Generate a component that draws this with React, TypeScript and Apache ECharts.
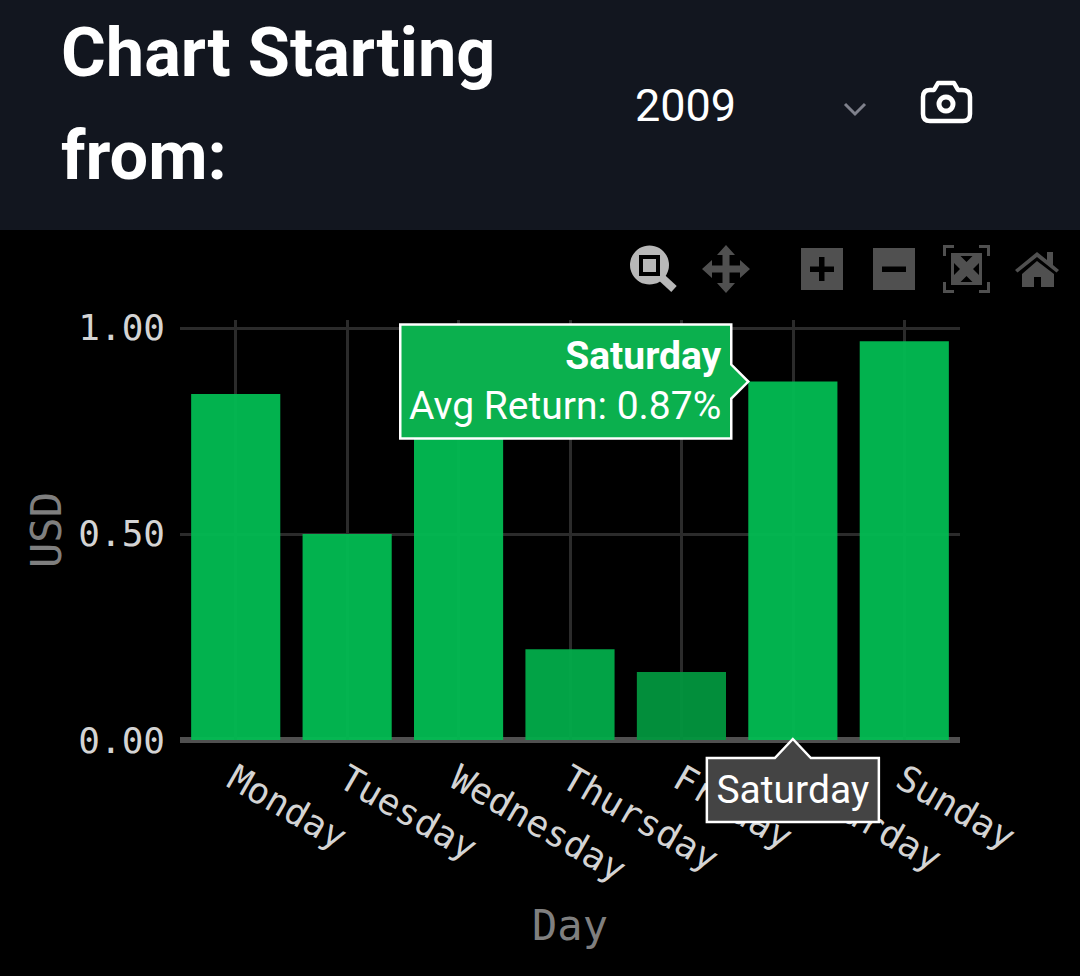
import React, { useEffect, useRef } from "react";
import * as echarts from "echarts";

const days = ["Monday", "Tuesday", "Wednesday", "Thursday", "Friday", "Saturday", "Sunday"];
const avgReturn = [0.84, 0.5, 0.88, 0.22, 0.165, 0.87, 0.968];
const barColors = ["#02bc52", "#02bc52", "#02bc52", "#02ac4a", "#02963e", "#02bc52", "#02bc52"];
const yTicks = [0, 0.5, 1];
const hoveredIndex = 5;
const titleLines = ["Chart Starting", "from:"];
const selectedYear = "2009";

const MONO = "'DejaVu Sans Mono', monospace";
const ICON_GREY = "#505050";

const reg = (name: string, d: string) =>
  echarts.graphic.registerShape(name, echarts.graphic.extendPath(d, {}) as any);

reg("camOutline", "M923 97Q923 90 930 90L934 90L938 83L954 83L958 90L962 90Q970 90 970 97L970 114Q970 121 963 121L930 121Q923 121 923 114Z");
reg("moveIcon", "M726 245L735 255L729.5 255L729.5 265.5L740 265.5L740 260L750 269L740 278L740 272.5L729.5 272.5L729.5 283L735 283L726 293L717 283L722.5 283L722.5 272.5L712 272.5L712 278L702 269L712 260L712 265.5L722.5 265.5L722.5 255L717 255Z");
reg("homeIcon", "M1037 252L1047 260L1047 252L1053 252L1053 265L1059 270L1056.5 272.5L1037 257L1017.5 272.5L1015 270ZM1037 261L1054 274L1054 287L1041 287L1041 277L1034 277L1034 287L1022 287L1022 274Z");
reg("scaleCorners", "M943 245L954 245L954 248L946 248L946 256L943 256ZM979 245L990 245L990 256L987 256L987 248L979 248ZM943 282L946 282L946 290L954 290L954 293L943 293ZM987 282L990 282L990 293L979 293L979 290L987 290Z");
reg("scaleHoles", "M954 263L954 275L960 269ZM979 263L979 275L973 269ZM960.500 256L972.500 256L966.500 262ZM960.500 282L972.500 282L966.500 276Z");

export default function App() {
  const ref = useRef<HTMLDivElement>(null);

  useEffect(() => {
    document.body.style.margin = "0";
    document.body.style.background = "#000";
    const chart = echarts.init(ref.current!, undefined, { renderer: "svg" });
    const base: any = {
      animation: false,
      backgroundColor: "#000000",
      grid: { left: 180, right: 120, top: 320, bottom: 236 },
      xAxis: {
        type: "category",
        data: days,
        name: "Day",
        nameLocation: "middle",
        nameGap: 164,
        nameTextStyle: { color: "#7f7f7f", fontFamily: MONO, fontSize: 42 },
        axisLine: { show: true, lineStyle: { color: ICON_GREY, width: 6, cap: "butt" } },
        axisTick: { show: false },
        splitLine: { show: false },
        axisLabel: { interval: 0, rotate: -30, margin: 27, verticalAlign: "top", lineHeight: 18, color: "#d4d4d4", fontFamily: MONO, fontSize: 36 },
      },
      yAxis: {
        type: "value",
        min: 0,
        max: 1.0194,
        interval: 0.5,
        name: "USD",
        nameLocation: "middle",
        nameGap: 112,
        nameRotate: 90,
        nameTextStyle: { color: "#7f7f7f", fontFamily: MONO, fontSize: 42 },
        axisLine: { show: false },
        axisTick: { show: false },
        splitLine: { show: true, showMaxLine: false, lineStyle: { color: "#2b2b2b", width: 3 } },
        axisLabel: {
          showMaxLabel: false,
          margin: 15,
          color: "#d4d4d4",
          fontFamily: MONO,
          fontSize: 36,
          formatter: (v: number) => (yTicks.includes(v) ? v.toFixed(2) : ""),
        },
      },
      series: [
        {
          type: "bar",
          barWidth: "80%",
          z: 2,
          data: avgReturn.map((v, i) => ({ value: v, itemStyle: { color: barColors[i], opacity: 0.95 } })),
          markLine: {
            silent: true,
            z: 1,
            symbol: "none",
            label: { show: false },
            lineStyle: { color: "#2b2b2b", width: 3, type: "solid" },
            data: days.map((d) => ({ xAxis: d })),
          },
        },
      ],
    };
    chart.setOption(base);

    const [hx, hy] = chart.convertToPixel({ xAxisIndex: 0, yAxisIndex: 0 }, [hoveredIndex, avgReturn[hoveredIndex]]);
    const [, y0] = chart.convertToPixel({ xAxisIndex: 0, yAxisIndex: 0 }, [hoveredIndex, 0]);
    const halfBar = 44.6;
    const tipX = hx - halfBar;
    const boxR = tipX - 17;
    const boxL = boxR - 331;
    const boxT = hy - 57;
    const boxB = hy + 57;
    const xT = y0 + 18;
    const xB = y0 + 82;
    const xL = hx - 86;
    const xR = hx + 86;

    const top = 100;
    const g = (o: any) => ({ z: top, ...o });
    const grey = { fill: ICON_GREY };
    chart.setOption({
      graphic: [
        g({ type: "rect", shape: { x: 0, y: 0, width: 1080, height: 230 }, style: { fill: "#12161f" } }),
        g({ type: "text", x: 61, y: 18, style: { text: titleLines[0], fill: "#ffffff", font: "700 68.5px Roboto" } }),
        g({ type: "text", x: 61, y: 121, style: { text: titleLines[1], fill: "#ffffff", font: "700 68.5px Roboto" } }),
        g({ type: "text", x: 635, y: 83, style: { text: selectedYear, fill: "#ffffff", font: "400 45px Roboto" } }),
        g({ type: "polyline", shape: { points: [[845, 104], [855, 114], [865, 104]] }, style: { stroke: "#7f818c", lineWidth: 3, fill: "none" } }),
        g({ type: "camOutline", x: 0, y: 0, style: { fill: "none", stroke: "#ffffff", lineWidth: 4.5, lineJoin: "round" } }),
        g({ type: "ring", shape: { cx: 946, cy: 104, r: 9.5, r0: 4.5 }, style: { fill: "#ffffff" } }),

        g({ type: "circle", shape: { cx: 649.5, cy: 265, r: 19.5 }, style: { fill: "#b8b8b8" } }),
        g({ type: "line", shape: { x1: 661, y1: 277, x2: 674, y2: 289 }, style: { stroke: "#b8b8b8", lineWidth: 8 } }),
        g({ type: "rect", shape: { x: 641, y: 257, width: 17, height: 17 }, style: { fill: "#b8b8b8", stroke: "#000000", lineWidth: 4 } }),
        g({ type: "moveIcon", x: 0, y: 0, style: grey }),
        g({ type: "rect", shape: { x: 801, y: 248, width: 42, height: 42 }, style: grey }),
        g({ type: "rect", shape: { x: 810, y: 266.5, width: 24, height: 5.5 }, style: { fill: "#000" } }),
        g({ type: "rect", shape: { x: 819, y: 257, width: 5.5, height: 24 }, style: { fill: "#000" } }),
        g({ type: "rect", shape: { x: 873, y: 248, width: 42, height: 42 }, style: grey }),
        g({ type: "rect", shape: { x: 882, y: 266.5, width: 24, height: 5.5 }, style: { fill: "#000" } }),
        g({ type: "scaleCorners", x: 0, y: 0, style: grey }),
        g({ type: "rect", shape: { x: 951, y: 253, width: 31, height: 32 }, style: grey }),
        g({ type: "scaleHoles", x: 0, y: 0, style: { fill: "#000" } }),
        g({ type: "homeIcon", x: 0, y: 0, style: grey }),

        g({
          type: "polygon",
          shape: { points: [[boxL, boxT], [boxR, boxT], [boxR, hy - 17], [tipX, hy], [boxR, hy + 17], [boxR, boxB], [boxL, boxB]] },
          style: { fill: "#0bb04e", stroke: "#ffffff", lineWidth: 2.5 },
        }),
        g({ type: "text", x: boxR - 10, y: hy - 45, style: { text: days[hoveredIndex], fill: "#ffffff", font: "700 39px Roboto", textAlign: "right" } }),
        g({ type: "text", x: boxR - 10, y: hy + 5, style: { text: `Avg Return: ${avgReturn[hoveredIndex].toFixed(2)}%`, fill: "#ffffff", font: "400 39px Roboto", textAlign: "right" } }),

        g({
          type: "polygon",
          shape: { points: [[hx, y0 - 1], [hx + 18, xT], [xR, xT], [xR, xB], [xL, xB], [xL, xT], [hx - 18, xT]] },
          style: { fill: "#444444", stroke: "#ffffff", lineWidth: 2.5 },
        }),
        g({ type: "text", x: hx, y: xT + 12, style: { text: days[hoveredIndex], fill: "#ffffff", font: "400 39px Roboto", textAlign: "center" } }),
      ],
    });
    return () => chart.dispose();
  }, []);

  return <div ref={ref} style={{ width: 1080, height: 976 }} />;
}
